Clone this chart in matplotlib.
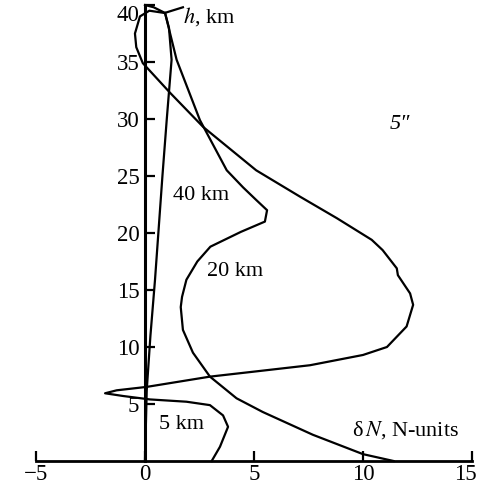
import numpy as np
import matplotlib
matplotlib.use('Agg')
import matplotlib.pyplot as plt
import matplotlib.transforms as mtransforms

plt.rcParams['font.family'] = ['Liberation Serif', 'DejaVu Serif']
plt.rcParams['mathtext.fontset'] = 'stix'

# dN (N-units) vs height h (km)
x5km = [3.06, 3.44, 3.81, 3.58, 2.98, 1.9, 0.23, -1.0, -1.83, -1.3, 0.08, 2.98, 5.28, 7.57,
        10.0, 11.1, 12.0, 12.3, 12.16, 11.6, 11.55, 10.9, 10.4, 8.8, 7.1, 5.1, 2.67, 1.15,
        -0.1, -0.4, -0.46, -0.23, 0.2, 0.9, 1.74]
h5km = [0.0, 1.25, 3.0, 4.0, 4.9, 5.2, 5.4, 5.7, 5.94, 6.2, 6.5, 7.4, 7.9, 8.4,
        9.3, 10.0, 11.8, 13.7, 14.7, 16.3, 16.9, 18.5, 19.4, 21.3, 23.2, 25.5, 29.3, 32.3,
        34.9, 36.3, 37.5, 39.0, 39.5, 39.3, 39.8]

x20km = [11.4, 10.0, 7.7, 5.4, 4.2, 2.98, 2.2, 1.74, 1.64, 1.7, 1.9, 2.4, 3.0, 4.4, 5.5, 5.6,
         5.1, 4.5, 3.75, 2.52, 1.45, 0.92, 0.4, 0.0]
h20km = [0.0, 0.6, 2.3, 4.3, 5.5, 7.4, 9.5, 11.5, 13.5, 14.4, 15.9, 17.5, 18.8, 20.1, 21.0, 22.0,
         22.9, 24.0, 25.5, 29.9, 35.2, 39.3, 39.8, 40.0]

x40km = [0.0, 0.08, 0.25, 0.46, 0.8, 1.0, 1.22, 1.1, 0.92]
h40km = [0.0, 6.2, 11.0, 15.9, 25.0, 30.0, 35.2, 38.0, 39.3]

xticks = [-5, 0, 5, 10, 15]
xticklabels = ['\u22125', '0', '5', '10', '15']
yticks = [5, 10, 15, 20, 25, 30, 35, 40]

fig = plt.figure(figsize=(4.81, 4.90), dpi=100)
ax = fig.add_axes([0.0748, 0.0592, 0.9065, 0.9306])

for xx, hh in [(x5km, h5km), (x20km, h20km), (x40km, h40km)]:
    ax.plot(xx, hh, color='black', linewidth=1.6, clip_on=False)

ax.set_xlim(-5, 15)
ax.set_ylim(0, 40)
ax.spines['top'].set_visible(False)
ax.spines['right'].set_visible(False)
ax.spines['left'].set_position(('data', 0))
ax.spines['left'].set_linewidth(2.2)
ax.spines['bottom'].set_linewidth(2.0)
ax.set_xticks(xticks)
ax.set_xticklabels(xticklabels)
ax.set_yticks(yticks)
ax.tick_params(axis='both', direction='in', length=7, width=1.6, labelsize=16.5)
ax.tick_params(axis='x', pad=2)
ax.tick_params(axis='y', pad=4)
# top label sits a bit lower, right label a bit left, so neither is cut off
ax.yaxis.get_major_ticks()[-1].label1.set_verticalalignment('top')
lab15 = ax.xaxis.get_major_ticks()[-1].label1
lab15.set_transform(lab15.get_transform() + mtransforms.ScaledTranslation(-0.07, 0, fig.dpi_scale_trans))

fs = 16
ax.text(1.75, 39.0, '$h$, km', fontsize=fs, va='center', ha='left')
ax.text(9.5, 2.7, 'δ$\\,N$, N-units', fontsize=fs, va='center', ha='left')
ax.text(11.7, 29.5, '5\u2033', fontsize=fs, style='italic', va='center', ha='center')
ax.text(1.28, 23.3, '40 km', fontsize=fs, va='center', ha='left')
ax.text(2.85, 16.6, '20 km', fontsize=fs, va='center', ha='left')
ax.text(0.64, 3.2, '5 km', fontsize=fs, va='center', ha='left')

fig.savefig('out.png', dpi=100)
